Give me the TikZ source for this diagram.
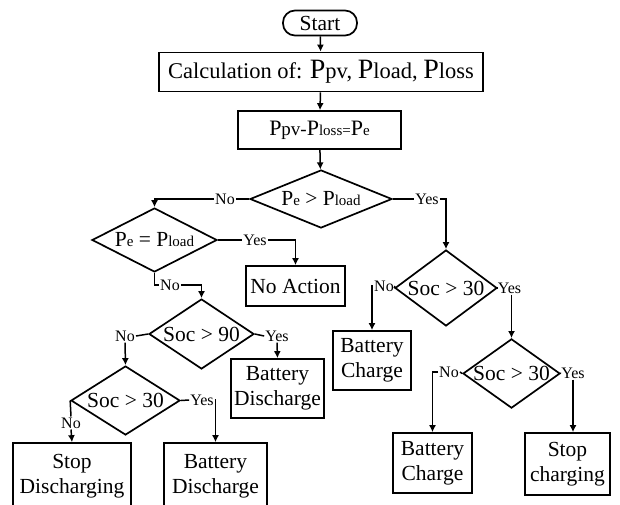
\documentclass[tikz,border=0pt]{standalone}
\usepackage{fontspec}
\setmainfont{Liberation Serif}
\usetikzlibrary{arrows.meta,shapes.geometric}
\newcommand{\Pw}[2][15]{P{\fontsize{#1}{#1}\selectfont #2}}
\newcommand{\bigP}{{\fontsize{28}{28}\selectfont P}}

\begin{document}
\begin{tikzpicture}[x=1pt,y=-1pt,
	box/.style={draw,line width=1.7pt,align=center,inner sep=0pt,font=\fontsize{21.5}{25}\selectfont},
	test/.style={draw,diamond,line width=1.7pt,inner sep=0pt,font=\fontsize{21.5}{25}\selectfont},
	lbl/.style={inner sep=1pt,font=\fontsize{16}{16}\selectfont},
	line/.style={line width=1.5pt},
	arr/.style={line width=1.5pt,-{Latex[length=7pt,width=7pt]}}]
	\clip (0,0) rectangle (620,504);
	\node[box,rounded corners=12pt,minimum width=74pt,minimum height=25pt] (start) at (320,23) {Start};
	\node[box,minimum width=324pt,minimum height=39pt,font=\fontsize{22.5}{25}\selectfont] (calc) at (321,72) {Calculation of: \bigP pv, \bigP load, \bigP loss};
	\node[box,minimum width=163pt,minimum height=38pt,font=\fontsize{22}{25}\selectfont] (pe_calc) at (319.5,130) {P{\fontsize{19}{19}\selectfont pv-}\Pw{loss=}\Pw{e}};
	\node[test,aspect=2.45,minimum width=142pt,minimum height=58pt] (pe_gt_pload) at (321,199) {\Pw{e} > \Pw{load}};
	\node[test,aspect=1.95,minimum width=125pt,minimum height=64pt] (pe_eq_pload) at (154.5,240) {\Pw{e} = \Pw{load}};
	\node[box,minimum width=99pt,minimum height=40pt] (no_action) at (295.5,286) {No Action};
	\node[test,aspect=1.5,minimum width=105pt,minimum height=70pt] (soc_gt_90) at (201.5,334) {Soc > 90};
	\node[box,minimum width=93pt,minimum height=59pt] (bat_dis_a) at (277.5,388.5) {Battery\\Discharge};
	\node[test,aspect=1.58,minimum width=109pt,minimum height=69pt] (soc_gt_30_a) at (125.5,400.5) {Soc > 30};
	\node[box,minimum width=118pt,minimum height=66pt] (stop_dis) at (72,476) {Stop\\Discharging};
	\node[box,minimum width=103pt,minimum height=66pt] (bat_dis_b) at (215.5,476) {Battery\\Discharge};
	\node[test,aspect=1.34,minimum width=102pt,minimum height=76pt] (soc_gt_30_b) at (446,288) {Soc > 30};
	\node[box,minimum width=78pt,minimum height=59pt] (bat_chg_a) at (372,360.5) {Battery\\Charge};
	\node[test,aspect=1.4,minimum width=97pt,minimum height=69pt] (soc_gt_30_c) at (511.5,373.5) {Soc > 30};
	\node[box,minimum width=79pt,minimum height=60pt] (bat_chg_b) at (432.5,463) {Battery\\Charge};
	\node[box,minimum width=85pt,minimum height=62pt] (stop_chg) at (567.5,464) {Stop\\charging};
	\node[lbl] (no_1) at (225,199) {No};
	\node[lbl] (yes_1) at (427,199) {Yes};
	\node[lbl] (yes_2) at (255,240) {Yes};
	\node[lbl] (no_2) at (170,285) {No};
	\node[lbl] (no_3) at (125,336) {No};
	\node[lbl] (yes_3) at (277,336) {Yes};
	\node[lbl] (yes_4) at (202,400) {Yes};
	\node[lbl] (no_4) at (71,423) {No};
	\node[lbl] (no_5) at (384,286) {No};
	\node[lbl] (yes_5) at (509.5,288) {Yes};
	\node[lbl] (no_6) at (449,372) {No};
	\node[lbl] (yes_6) at (573,373) {Yes};
	\draw[arr] (start) -- (calc);
	\draw[arr] (calc) -- (pe_calc);
	\draw[arr] (pe_calc) -- (pe_gt_pload);
	\draw[line] (pe_gt_pload.west) -- (no_1.east);
	\draw[arr] (no_1.west) -| (pe_eq_pload.north);
	\draw[line] (pe_gt_pload.east) -- (yes_1.west);
	\draw[arr] (yes_1.east) -| (soc_gt_30_b.north);
	\draw[line] (pe_eq_pload.east) -- (yes_2.west);
	\draw[arr] (yes_2.east) -| (no_action.north);
	\draw[line] (pe_eq_pload.south) |- (no_2.west);
	\draw[arr] (no_2.east) -| (soc_gt_90.north);
	\draw[line] (soc_gt_90.west) -- (no_3.east);
	\draw[arr] (no_3.south) -- (soc_gt_30_a.north);
	\draw[line] (soc_gt_90.east) -- (yes_3.west);
	\draw[arr] (yes_3.south) -- (bat_dis_a.north);
	\draw[line] (soc_gt_30_a.east) -- (yes_4.west);
	\draw[arr] (yes_4.east) -| (bat_dis_b.north);
	\draw[line] (soc_gt_30_a.west) -- (no_4.north);
	\draw[arr] (no_4.south) -- (stop_dis.north);
	\draw[line] (soc_gt_30_b.west) -- (no_5.east);
	\draw[arr] (no_5.west) -| (bat_chg_a.north);
	\draw[line] (soc_gt_30_b.east) -- (yes_5.west);
	\draw[arr] (yes_5.south -| soc_gt_30_c.north) -- (soc_gt_30_c.north);
	\draw[line] (soc_gt_30_c.west) -- (no_6.east);
	\draw[arr] (no_6.west) -| (bat_chg_b.north);
	\draw[line] (soc_gt_30_c.east) -- (yes_6.west);
	\draw[arr] (yes_6.south) -- (yes_6.south |- stop_chg.north);
\end{tikzpicture}
\end{document}
